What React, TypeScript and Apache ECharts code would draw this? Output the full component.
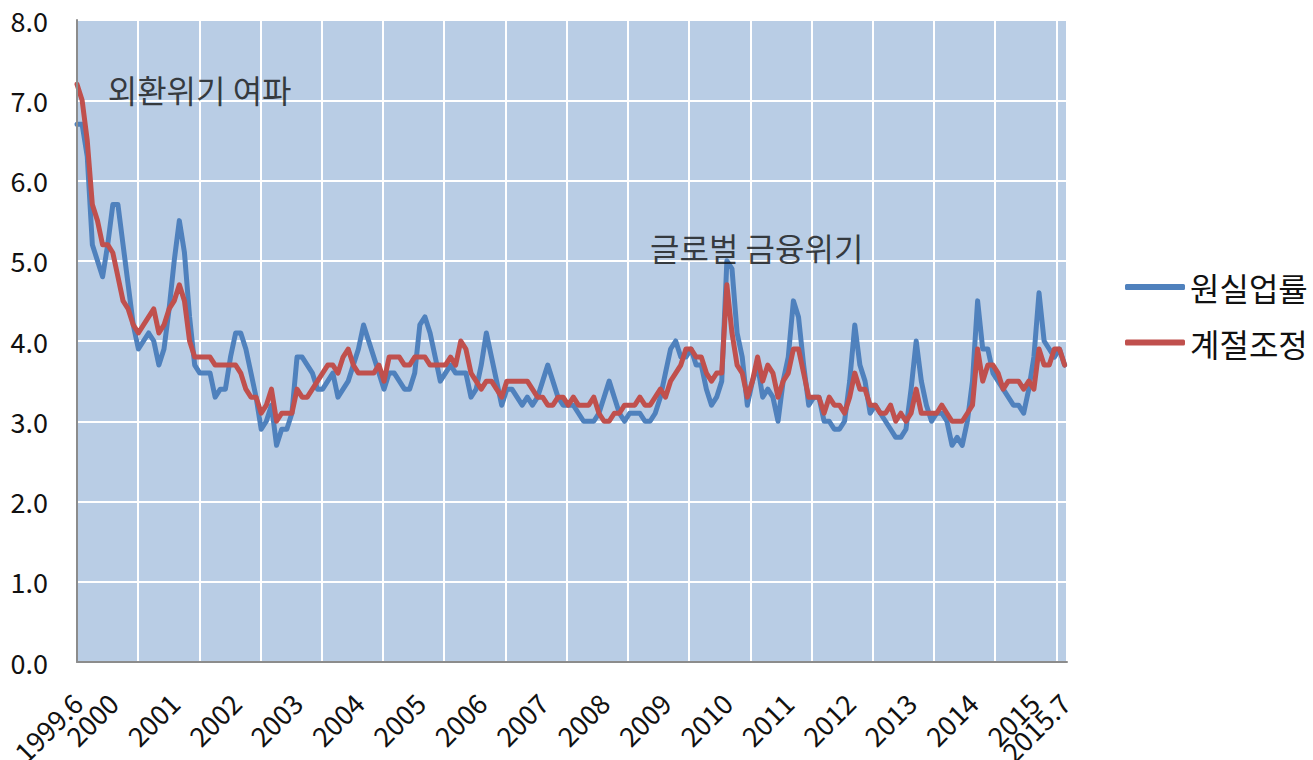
import { useEffect, useRef } from "react";
import * as echarts from "echarts";

// Monthly categories, 1999.6 .. 2015.7
const START_YEAR = 1999;
const START_MONTH = 6;
const COUNT = 194;
const months: string[] = Array.from({ length: COUNT }, (_, i) => {
  const t = START_MONTH - 1 + i;
  return `${START_YEAR + Math.floor(t / 12)}.${(t % 12) + 1}`;
});

// Tick labels shown on the category axis
const tickMonths = [
  "1999.6", "2000.1", "2001.1", "2002.1", "2003.1", "2004.1", "2005.1", "2006.1",
  "2007.1", "2008.1", "2009.1", "2010.1", "2011.1", "2012.1", "2013.1", "2014.1",
  "2015.1", "2015.7",
];
const tickLabels = [
  "1999.6", "2000", "2001", "2002", "2003", "2004", "2005", "2006",
  "2007", "2008", "2009", "2010", "2011", "2012", "2013", "2014",
  "2015", "2015.7",
];

// 원실업률 (raw unemployment rate, %)
const rawRate = [
  // 1999.6-12
  6.7, 6.7, 6.3, 5.2, 5.0, 4.8, 5.2,
  // 2000
  5.7, 5.7, 5.2, 4.7, 4.2, 3.9, 4.0, 4.1, 4.0, 3.7, 3.9, 4.4,
  // 2001
  5.0, 5.5, 5.1, 4.3, 3.7, 3.6, 3.6, 3.6, 3.3, 3.4, 3.4, 3.8,
  // 2002
  4.1, 4.1, 3.9, 3.6, 3.3, 2.9, 3.0, 3.2, 2.7, 2.9, 2.9, 3.1,
  // 2003
  3.8, 3.8, 3.7, 3.6, 3.4, 3.4, 3.5, 3.6, 3.3, 3.4, 3.5, 3.7,
  // 2004
  3.9, 4.2, 4.0, 3.8, 3.6, 3.4, 3.6, 3.6, 3.5, 3.4, 3.4, 3.6,
  // 2005
  4.2, 4.3, 4.1, 3.8, 3.5, 3.6, 3.7, 3.6, 3.6, 3.6, 3.3, 3.4,
  // 2006
  3.7, 4.1, 3.8, 3.5, 3.2, 3.4, 3.4, 3.3, 3.2, 3.3, 3.2, 3.3,
  // 2007
  3.5, 3.7, 3.5, 3.3, 3.2, 3.2, 3.2, 3.1, 3.0, 3.0, 3.0, 3.1,
  // 2008
  3.3, 3.5, 3.3, 3.1, 3.0, 3.1, 3.1, 3.1, 3.0, 3.0, 3.1, 3.3,
  // 2009
  3.6, 3.9, 4.0, 3.8, 3.8, 3.9, 3.7, 3.7, 3.4, 3.2, 3.3, 3.5,
  // 2010
  5.0, 4.9, 4.1, 3.8, 3.2, 3.5, 3.7, 3.3, 3.4, 3.3, 3.0, 3.5,
  // 2011
  3.8, 4.5, 4.3, 3.7, 3.2, 3.3, 3.3, 3.0, 3.0, 2.9, 2.9, 3.0,
  // 2012
  3.5, 4.2, 3.7, 3.5, 3.1, 3.2, 3.1, 3.0, 2.9, 2.8, 2.8, 2.9,
  // 2013
  3.4, 4.0, 3.5, 3.2, 3.0, 3.1, 3.1, 3.0, 2.7, 2.8, 2.7, 3.0,
  // 2014
  3.5, 4.5, 3.9, 3.9, 3.6, 3.5, 3.4, 3.3, 3.2, 3.2, 3.1, 3.4,
  // 2015.1-7
  3.8, 4.6, 4.0, 3.9, 3.8, 3.9, 3.7,
];

// 계절조정 (seasonally adjusted, %)
const saRate = [
  // 1999.6-12
  7.2, 7.0, 6.5, 5.7, 5.5, 5.2, 5.2,
  // 2000
  5.1, 4.8, 4.5, 4.4, 4.2, 4.1, 4.2, 4.3, 4.4, 4.1, 4.2, 4.4,
  // 2001
  4.5, 4.7, 4.5, 4.0, 3.8, 3.8, 3.8, 3.8, 3.7, 3.7, 3.7, 3.7,
  // 2002
  3.7, 3.6, 3.4, 3.3, 3.3, 3.1, 3.2, 3.4, 3.0, 3.1, 3.1, 3.1,
  // 2003
  3.4, 3.3, 3.3, 3.4, 3.5, 3.6, 3.7, 3.7, 3.6, 3.8, 3.9, 3.7,
  // 2004
  3.6, 3.6, 3.6, 3.6, 3.7, 3.5, 3.8, 3.8, 3.8, 3.7, 3.7, 3.8,
  // 2005
  3.8, 3.8, 3.7, 3.7, 3.7, 3.7, 3.8, 3.7, 4.0, 3.9, 3.6, 3.5,
  // 2006
  3.4, 3.5, 3.5, 3.4, 3.3, 3.5, 3.5, 3.5, 3.5, 3.5, 3.4, 3.3,
  // 2007
  3.3, 3.2, 3.2, 3.3, 3.3, 3.2, 3.3, 3.2, 3.2, 3.2, 3.3, 3.1,
  // 2008
  3.0, 3.0, 3.1, 3.1, 3.2, 3.2, 3.2, 3.3, 3.2, 3.2, 3.3, 3.4,
  // 2009
  3.3, 3.5, 3.6, 3.7, 3.9, 3.9, 3.8, 3.8, 3.6, 3.5, 3.6, 3.6,
  // 2010
  4.7, 4.1, 3.7, 3.6, 3.3, 3.5, 3.8, 3.5, 3.7, 3.6, 3.3, 3.5,
  // 2011
  3.6, 3.9, 3.9, 3.6, 3.3, 3.3, 3.3, 3.1, 3.3, 3.2, 3.2, 3.1,
  // 2012
  3.3, 3.6, 3.4, 3.4, 3.2, 3.2, 3.1, 3.1, 3.2, 3.0, 3.1, 3.0,
  // 2013
  3.1, 3.4, 3.1, 3.1, 3.1, 3.1, 3.2, 3.1, 3.0, 3.0, 3.0, 3.1,
  // 2014
  3.2, 3.9, 3.5, 3.7, 3.7, 3.6, 3.4, 3.5, 3.5, 3.5, 3.4, 3.5,
  // 2015.1-7
  3.4, 3.9, 3.7, 3.7, 3.9, 3.9, 3.7,
];

const seriesNames = ["원실업률", "계절조정"];
// Annotation anchors: text starts at this month, vertically centred on this value
const annotations = [
  { text: "외환위기 여파", month: "1999.12", value: 7.14 },
  { text: "글로벌 금융위기", month: "2008.10", value: 5.17 },
];

const FONT = "'Noto Sans CJK KR', 'Noto Sans', sans-serif";

export default function App() {
  const ref = useRef<HTMLDivElement>(null);

  useEffect(() => {
    if (!ref.current) return;
    const chart = echarts.init(ref.current, undefined, { renderer: "svg" });

    const labelAt: Record<number, string> = {};
    tickMonths.forEach((m, k) => {
      labelAt[months.indexOf(m)] = tickLabels[k];
    });

    const plotLeft = 77;
    const plotTop = 20;
    const plotWidth = 990;
    const plotHeight = 642;
    const xMax = 193.47; // data spacing ~5.117px per month
    const gridMax = 194.1; // gridline spacing ~61.2px per 12 months

    const option: any = {
      animation: false,
      backgroundColor: "#ffffff",
      grid: {
        left: plotLeft,
        top: plotTop,
        width: plotWidth,
        height: plotHeight,
        containLabel: false,
        outerBoundsMode: "none",
        show: true,
        backgroundColor: "#B9CDE5",
        borderWidth: 0,
      },
      legend: {
        orient: "vertical",
        left: 1125,
        top: 271,
        padding: 0,
        itemWidth: 60,
        itemHeight: 6,
        itemGap: 23.5,
        icon: "roundRect",
        data: seriesNames,
        textStyle: {
          fontSize: 32,
          lineHeight: 32,
          color: "#111",
          fontFamily: FONT,
        },
      },
      xAxis: [
        {
          type: "value",
          min: 0,
          max: xMax,
          interval: 1,
          axisLine: { show: false },
          axisTick: { show: false },
          splitLine: { show: false },
          axisLabel: {
            rotate: 45,
            margin: 36,
            fontSize: 27,
            color: "#111",
            fontFamily: FONT,
            showMinLabel: true,
            showMaxLabel: true,
            formatter: (v: number) =>
              Number.isInteger(v) && labelAt[v] !== undefined ? labelAt[v] : "",
          },
        },
        {
          type: "value",
          min: 0,
          max: gridMax,
          interval: 12,
          axisLine: { show: false },
          axisTick: { show: false },
          axisLabel: { show: false },
          splitLine: { show: true, lineStyle: { color: "#ffffff", width: 2 } },
        },
        {
          type: "value",
          position: "bottom",
          min: 0,
          max: 1,
          z: 5,
          axisLine: { show: true, onZero: false, lineStyle: { color: "#8c8c8c", width: 2 } },
          axisTick: { show: false },
          axisLabel: { show: false },
          splitLine: { show: false },
        },
      ],
      yAxis: [
        {
          type: "value",
          min: 0,
          max: 8,
          interval: 1,
          axisLine: { show: false },
          axisTick: { show: false },
          splitLine: { show: true, lineStyle: { color: "#ffffff", width: 2 } },
          axisLabel: {
            margin: 29,
            fontSize: 27,
            color: "#111",
            fontFamily: FONT,
            formatter: (v: number) => v.toFixed(1),
          },
        },
        {
          type: "value",
          position: "left",
          min: 0,
          max: 1,
          z: 5,
          axisLine: { show: true, onZero: false, lineStyle: { color: "#8c8c8c", width: 2 } },
          axisTick: { show: false },
          axisLabel: { show: false },
          splitLine: { show: false },
        },
      ],
      series: [
        {
          name: seriesNames[0],
          type: "line",
          xAxisIndex: 0,
          yAxisIndex: 0,
          symbol: "none",
          color: "#4F81BD",
          lineStyle: { color: "#4F81BD", width: 5, join: "round", cap: "round" },
          data: rawRate.map((v, i) => [i, v]),
          z: 2,
        },
        {
          name: seriesNames[1],
          type: "line",
          xAxisIndex: 0,
          yAxisIndex: 0,
          symbol: "none",
          color: "#C0504D",
          lineStyle: { color: "#C0504D", width: 5, join: "round", cap: "round" },
          data: saRate.map((v, i) => [i, v]),
          z: 3,
        },
        {
          name: "annotations",
          type: "scatter",
          xAxisIndex: 0,
          yAxisIndex: 0,
          symbolSize: 0,
          silent: true,
          z: 4,
          data: annotations.map((a) => ({
            value: [months.indexOf(a.month), a.value],
            label: {
              show: true,
              formatter: a.text,
              position: "inside",
              align: "left",
              verticalAlign: "middle",
              fontSize: 32,
              color: "#111",
              fontFamily: FONT,
            },
          })),
        },
      ],
    };

    chart.setOption(option);
    return () => chart.dispose();
  }, []);

  return (
    <div
      ref={ref}
      style={{ position: "absolute", left: 0, top: 0, width: 1313, height: 760 }}
    />
  );
}
